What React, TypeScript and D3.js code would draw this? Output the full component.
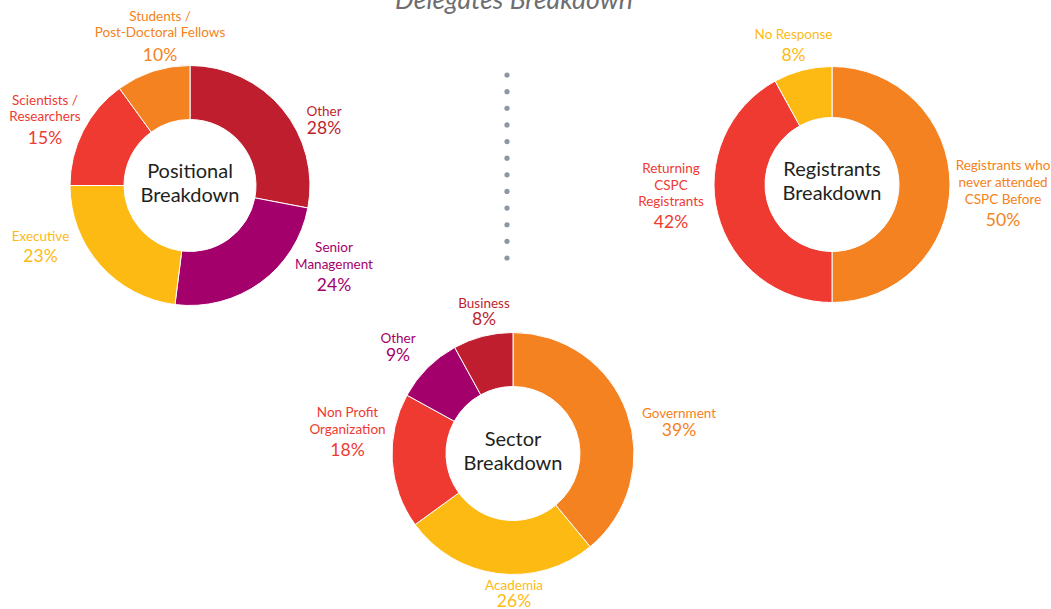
import React from "react";
import * as d3 from "d3";

// ---------- data ----------
const positionalCategories = ["Other", "Senior Management", "Executive", "Scientists / Researchers", "Students / Post-Doctoral Fellows"];
const positionalLabelLines = [["Other"], ["Senior", "Management"], ["Executive"], ["Scientists /", "Researchers"], ["Students /", "Post-Doctoral Fellows"]];
const positionalValues = [28, 24, 23, 15, 10];

const registrantCategories = ["Registrants who never attended CSPC Before", "Returning CSPC Registrants", "No Response"];
const registrantLabelLines = [["Registrants who", "never attended", "CSPC Before"], ["Returning", "CSPC", "Registrants"], ["No Response"]];
const registrantValues = [50, 42, 8];

const sectorCategories = ["Government", "Academia", "Non Profit Organization", "Other", "Business"];
const sectorLabelLines = [["Government"], ["Academia"], ["Non Profit", "Organization"], ["Other"], ["Business"]];
const sectorValues = [39, 26, 18, 9, 8];

const chartTitle = "Delegates Breakdown";

// ---------- styles / layout ----------
const C = {
  darkRed: "#BE1E2D",
  magenta: "#A3006B",
  yellow: "#FDBA13",
  orange: "#F58220",
  red: "#EE3A31",
};
const positionalColors = [C.darkRed, C.magenta, C.yellow, C.red, C.orange];
const registrantColors = [C.orange, C.red, C.yellow];
const sectorColors = [C.orange, C.yellow, C.red, C.magenta, C.darkRed];

const FONT = "Lato, 'Open Sans', sans-serif";

type LabelPos = { dx: number; dy: number; pdy: number };

const positionalLayout = { cx: 190, cy: 185.5, rOuter: 120, rInner: 66, title: ["Positional", "Breakdown"], titleY: [-8, 16] };
const positionalLabelPos: LabelPos[] = [
  { dx: 134, dy: -70, pdy: -52 },
  { dx: 144, dy: 66.5, pdy: 105 },
  { dx: -149.5, dy: 55, pdy: 76.5 },
  { dx: -145, dy: -81, pdy: -42 },
  { dx: -30, dy: -165, pdy: -124.5 },
];

const registrantLayout = { cx: 832, cy: 184.5, rOuter: 118, rInner: 67, title: ["Registrants", "Breakdown"], titleY: [-8.5, 15.5] };
const registrantLabelPos: LabelPos[] = [
  { dx: 171, dy: -14.5, pdy: 41.5 },
  { dx: -161, dy: -11.8, pdy: 43.8 },
  { dx: -38.5, dy: -146, pdy: -123.8 },
];

const sectorLayout = { cx: 513, cy: 453.5, rOuter: 121, rInner: 67, title: ["Sector", "Breakdown"], titleY: [-7.5, 16.5] };
const sectorLabelPos: LabelPos[] = [
  { dx: 166, dy: -35.2, pdy: -17.6 },
  { dx: 1, dy: 136.5, pdy: 153.4 },
  { dx: -165.5, dy: -36.8, pdy: 2.2 },
  { dx: -115, dy: -110.8, pdy: -92.8 },
  { dx: -29, dy: -145.2, pdy: -128.3 },
];

const LINE_H = 16.8;

type DonutProps = {
  categories: string[];
  lines: string[][];
  values: number[];
  colors: string[];
  layout: { cx: number; cy: number; rOuter: number; rInner: number; title: string[]; titleY: number[] };
  labelPos: LabelPos[];
};

function Donut({ categories, lines, values, colors, layout, labelPos }: DonutProps) {
  const data = categories.map((c, i) => ({ name: c, value: values[i], i }));
  const pie = d3.pie<{ name: string; value: number; i: number }>().sort(null).value((d) => d.value);
  const arcs = pie(data);
  const arcGen = d3
    .arc<d3.PieArcDatum<{ name: string; value: number; i: number }>>()
    .innerRadius(layout.rInner)
    .outerRadius(layout.rOuter);
  const fmt = (v: number) => `${v}%`;
  return (
    <g transform={`translate(${layout.cx},${layout.cy})`}>
      {arcs.map((a) => (
        <path key={a.data.name} d={arcGen(a) || ""} fill={colors[a.data.i]} stroke="#ffffff" strokeWidth={1} />
      ))}
      {layout.title.map((t, k) => (
        <text key={t} x={0} y={layout.titleY[k]} textAnchor="middle" fontFamily={FONT} fontSize={20} fill="#231F20">
          {t}
        </text>
      ))}
      {arcs.map((a) => {
        const p = labelPos[a.data.i];
        const col = colors[a.data.i];
        return (
          <g key={"l" + a.data.name} fill={col} fontFamily={FONT} textAnchor="middle">
            {lines[a.data.i].map((ln, k) => (
              <text key={k} x={p.dx} y={p.dy + k * LINE_H} fontSize={13.5}>
                {ln}
              </text>
            ))}
            <text x={p.dx} y={p.pdy} fontSize={17.5}>
              {fmt(a.data.value)}
            </text>
          </g>
        );
      })}
    </g>
  );
}

export default function App() {
  const W = 1051;
  const H = 609;
  const dotY = d3.scaleLinear().domain([0, 11]).range([75, 258]);
  const dots = d3.range(12);
  return (
    <svg width={W} height={H} style={{ position: "absolute", left: 0, top: 0, background: "#ffffff" }}>
      <rect x={0} y={0} width={W} height={H} fill="#ffffff" />
      <text x={514} y={8.5} textAnchor="middle" fontFamily={FONT} fontStyle="italic" fontSize={26.5} fill="#6D6E71">
        {chartTitle}
      </text>
      {dots.map((d) => (
        <circle key={d} cx={507} cy={dotY(d)} r={2.6} fill="#8C96A4" />
      ))}
      <Donut
        categories={positionalCategories}
        lines={positionalLabelLines}
        values={positionalValues}
        colors={positionalColors}
        layout={positionalLayout}
        labelPos={positionalLabelPos}
      />
      <Donut
        categories={registrantCategories}
        lines={registrantLabelLines}
        values={registrantValues}
        colors={registrantColors}
        layout={registrantLayout}
        labelPos={registrantLabelPos}
      />
      <Donut
        categories={sectorCategories}
        lines={sectorLabelLines}
        values={sectorValues}
        colors={sectorColors}
        layout={sectorLayout}
        labelPos={sectorLabelPos}
      />
    </svg>
  );
}
